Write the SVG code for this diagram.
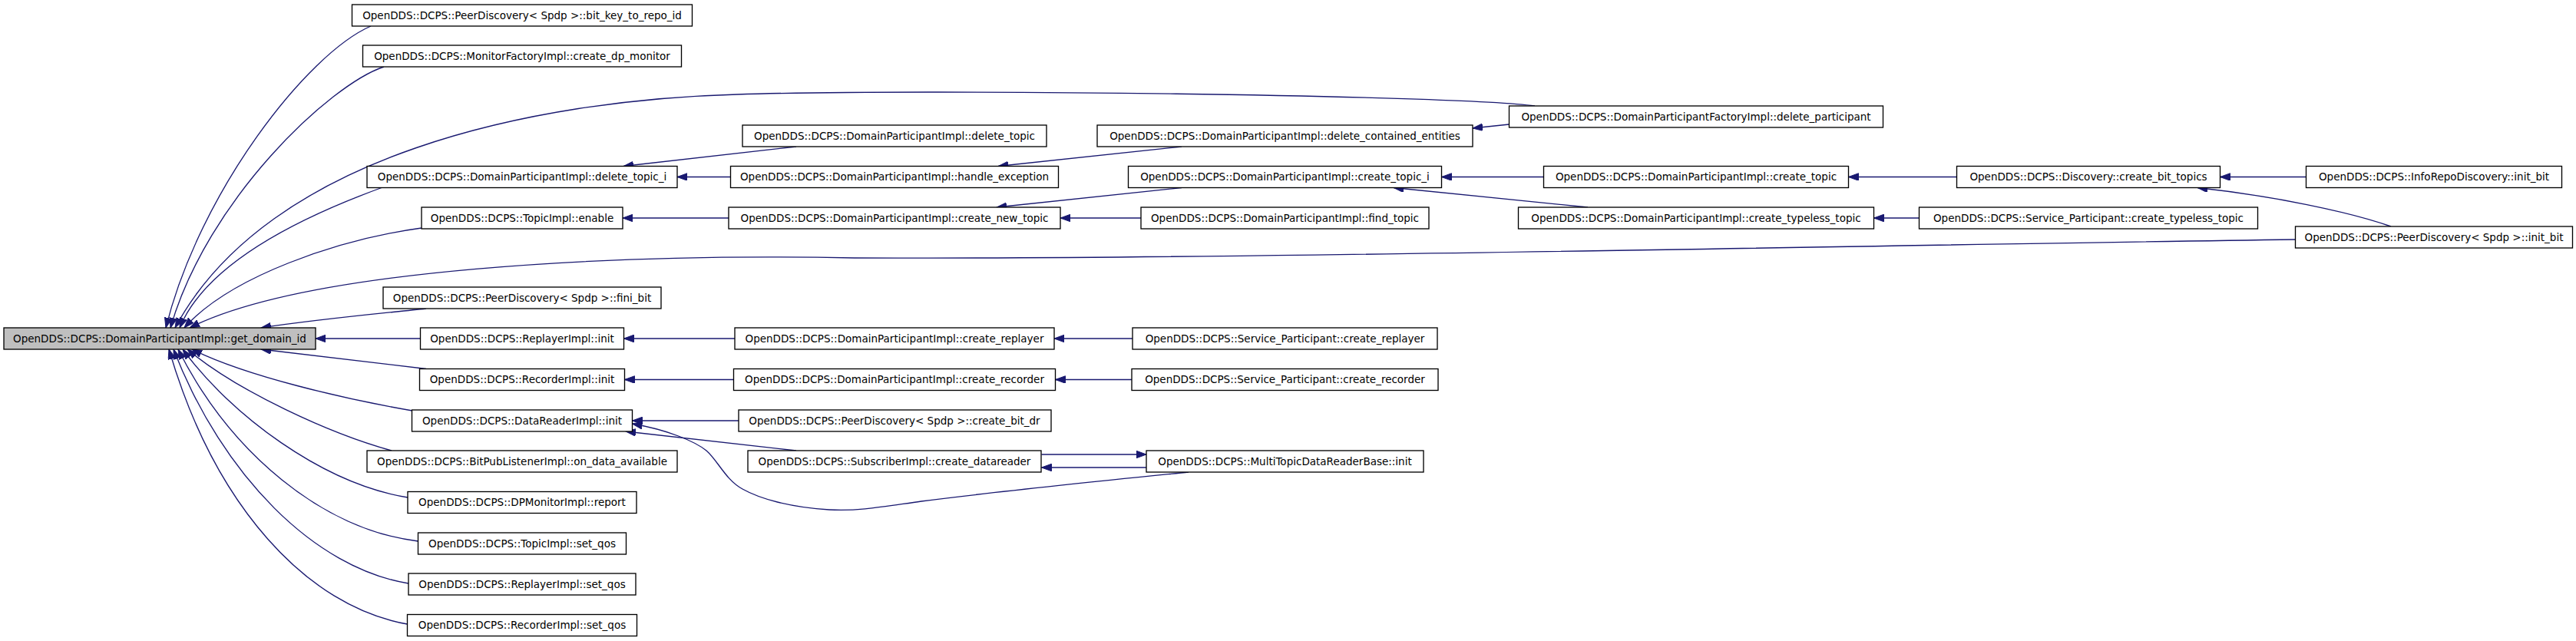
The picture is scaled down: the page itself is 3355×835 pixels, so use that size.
<svg xmlns="http://www.w3.org/2000/svg" width="3355" height="835" viewBox="0 0 3355 835">
<style>
.n rect{fill:#ffffff;stroke:#000000;stroke-width:1.33}
.n.root rect{fill:#bfbfbf}
.n text{font-family:"DejaVu Sans","Liberation Sans",sans-serif;font-size:13.5px;fill:#000000;text-anchor:middle}
.e path{fill:none;stroke:#191970;stroke-width:1.33;marker-end:url(#ah)}
</style>
<defs>
<marker id="ah" markerUnits="userSpaceOnUse" markerWidth="14" markerHeight="10" refX="13" refY="4.75" orient="auto">
<path d="M0,0 L13,4.75 L0,9.5 z" fill="#191970" stroke="#191970" stroke-width="1"/>
</marker>
</defs>
<rect width="3355" height="835" fill="#ffffff"/>
<g id="edges" class="e">
<path d="M483,34 C400,70 260,250 216,427"/>
<path d="M500,87 C430,110 270,260 222,427"/>
<path d="M1999,138 C1900,124 1200,115 960,123 C700,130 350,200 228,427"/>
<path d="M497,244.5 C400,280 270,340 234,427"/>
<path d="M549,297 C440,312 300,360 240,427"/>
<path d="M2990,312 C2400,320 1600,338 1113,336 C800,330 400,350 247,427"/>
<path d="M555,402 C500,408 420,415 340,427"/>
<path d="M547.5,441 L411,441"/>
<path d="M555,480.5 C500,474 420,465 340,455"/>
<path d="M537,535 C450,520 320,490 250,455"/>
<path d="M510,587 C430,565 310,510 244,455"/>
<path d="M531,648 C420,630 300,540 238,455"/>
<path d="M544.5,705 C420,690 300,590 232,455"/>
<path d="M532,760 C410,740 290,620 226,455"/>
<path d="M530.5,813 C400,790 280,660 220,455"/>
<path d="M1037,191 L812,216.5"/>
<path d="M951.5,230.5 L882,230.5"/>
<path d="M1539,191 L1300,216.5"/>
<path d="M1965.5,162 L1918,167"/>
<path d="M949,284 L811,284"/>
<path d="M1539,244.5 L1298,270"/>
<path d="M1486,284 L1381,284"/>
<path d="M2010.5,230.5 L1877.5,230.5"/>
<path d="M2068,270 L1815,244.5"/>
<path d="M2548.5,230.5 L2407.5,230.5"/>
<path d="M2499.5,284 L2440.5,284"/>
<path d="M3003.5,230.5 L2891.5,230.5"/>
<path d="M3114,295 C3060,276 2960,255 2862,244.5"/>
<path d="M957,441 L812.5,441"/>
<path d="M1475,441 L1373,441"/>
<path d="M955.5,494.5 L813.5,494.5"/>
<path d="M1474,494.5 L1374.5,494.5"/>
<path d="M963.5,548 L823.5,548"/>
<path d="M1037,587 L815,562"/>
<path d="M1548,615 C1450,625 1300,640 1200,653 C1150,660 1120,666 1080,664 C1030,661 990,650 967,637 C945,625 935,600 920,587 C905,575 870,560 823.5,552"/>
<path d="M1493,609 L1356.5,609"/>
<path d="M1356.5,592 L1493,592"/>
</g>
<g id="n_get_domain_id" class="n root"><rect x="5" y="427" width="406" height="28"/><text x="208" y="445.5">OpenDDS::DCPS::DomainParticipantImpl::get_domain_id</text></g>
<g id="n_bit_key_to_repo_id" class="n"><rect x="458.5" y="6" width="443" height="28"/><text x="680" y="24.5">OpenDDS::DCPS::PeerDiscovery&lt; Spdp &gt;::bit_key_to_repo_id</text></g>
<g id="n_create_dp_monitor" class="n"><rect x="472.5" y="59" width="415" height="28"/><text x="680" y="77.5">OpenDDS::DCPS::MonitorFactoryImpl::create_dp_monitor</text></g>
<g id="n_delete_topic_i" class="n"><rect x="478" y="216.5" width="404" height="28"/><text x="680" y="235">OpenDDS::DCPS::DomainParticipantImpl::delete_topic_i</text></g>
<g id="n_topic_enable" class="n"><rect x="549" y="270" width="262" height="28"/><text x="680" y="288.5">OpenDDS::DCPS::TopicImpl::enable</text></g>
<g id="n_fini_bit" class="n"><rect x="499" y="374" width="362" height="28"/><text x="680" y="392.5">OpenDDS::DCPS::PeerDiscovery&lt; Spdp &gt;::fini_bit</text></g>
<g id="n_replayer_init" class="n"><rect x="547.5" y="427" width="265" height="28"/><text x="680" y="445.5">OpenDDS::DCPS::ReplayerImpl::init</text></g>
<g id="n_recorder_init" class="n"><rect x="546.5" y="480.5" width="267" height="28"/><text x="680" y="499">OpenDDS::DCPS::RecorderImpl::init</text></g>
<g id="n_datareader_init" class="n"><rect x="536.5" y="534" width="287" height="28"/><text x="680" y="552.5">OpenDDS::DCPS::DataReaderImpl::init</text></g>
<g id="n_on_data_available" class="n"><rect x="478" y="587" width="404" height="28"/><text x="680" y="605.5">OpenDDS::DCPS::BitPubListenerImpl::on_data_available</text></g>
<g id="n_dpmonitor_report" class="n"><rect x="531" y="640.5" width="298" height="28"/><text x="680" y="659">OpenDDS::DCPS::DPMonitorImpl::report</text></g>
<g id="n_topic_set_qos" class="n"><rect x="544.5" y="694" width="271" height="28"/><text x="680" y="712.5">OpenDDS::DCPS::TopicImpl::set_qos</text></g>
<g id="n_replayer_set_qos" class="n"><rect x="532" y="747" width="296" height="28"/><text x="680" y="765.5">OpenDDS::DCPS::ReplayerImpl::set_qos</text></g>
<g id="n_recorder_set_qos" class="n"><rect x="530.5" y="800.5" width="299" height="28"/><text x="680" y="819">OpenDDS::DCPS::RecorderImpl::set_qos</text></g>
<g id="n_delete_topic" class="n"><rect x="967" y="163" width="396" height="28"/><text x="1165" y="181.5">OpenDDS::DCPS::DomainParticipantImpl::delete_topic</text></g>
<g id="n_handle_exception" class="n"><rect x="951.5" y="216.5" width="427" height="28"/><text x="1165" y="235">OpenDDS::DCPS::DomainParticipantImpl::handle_exception</text></g>
<g id="n_create_new_topic" class="n"><rect x="949" y="270" width="432" height="28"/><text x="1165" y="288.5">OpenDDS::DCPS::DomainParticipantImpl::create_new_topic</text></g>
<g id="n_dp_create_replayer" class="n"><rect x="957" y="427" width="416" height="28"/><text x="1165" y="445.5">OpenDDS::DCPS::DomainParticipantImpl::create_replayer</text></g>
<g id="n_dp_create_recorder" class="n"><rect x="955.5" y="480.5" width="419" height="28"/><text x="1165" y="499">OpenDDS::DCPS::DomainParticipantImpl::create_recorder</text></g>
<g id="n_create_bit_dr" class="n"><rect x="962" y="534" width="407" height="28"/><text x="1165" y="552.5">OpenDDS::DCPS::PeerDiscovery&lt; Spdp &gt;::create_bit_dr</text></g>
<g id="n_create_datareader" class="n"><rect x="974" y="587" width="382" height="28"/><text x="1165" y="605.5">OpenDDS::DCPS::SubscriberImpl::create_datareader</text></g>
<g id="n_delete_contained_entities" class="n"><rect x="1429" y="163" width="489" height="28"/><text x="1673.5" y="181.5">OpenDDS::DCPS::DomainParticipantImpl::delete_contained_entities</text></g>
<g id="n_create_topic_i" class="n"><rect x="1469.5" y="216.5" width="408" height="28"/><text x="1673.5" y="235">OpenDDS::DCPS::DomainParticipantImpl::create_topic_i</text></g>
<g id="n_find_topic" class="n"><rect x="1486" y="270" width="375" height="28"/><text x="1673.5" y="288.5">OpenDDS::DCPS::DomainParticipantImpl::find_topic</text></g>
<g id="n_sp_create_replayer" class="n"><rect x="1475" y="427" width="397" height="28"/><text x="1673.5" y="445.5">OpenDDS::DCPS::Service_Participant::create_replayer</text></g>
<g id="n_sp_create_recorder" class="n"><rect x="1474" y="480.5" width="399" height="28"/><text x="1673.5" y="499">OpenDDS::DCPS::Service_Participant::create_recorder</text></g>
<g id="n_multitopic_init" class="n"><rect x="1493" y="587" width="361" height="28"/><text x="1673.5" y="605.5">OpenDDS::DCPS::MultiTopicDataReaderBase::init</text></g>
<g id="n_delete_participant" class="n"><rect x="1965.5" y="138" width="487" height="28"/><text x="2209" y="156.5">OpenDDS::DCPS::DomainParticipantFactoryImpl::delete_participant</text></g>
<g id="n_create_topic" class="n"><rect x="2010.5" y="216.5" width="397" height="28"/><text x="2209" y="235">OpenDDS::DCPS::DomainParticipantImpl::create_topic</text></g>
<g id="n_create_typeless_topic" class="n"><rect x="1977.5" y="270" width="463" height="28"/><text x="2209" y="288.5">OpenDDS::DCPS::DomainParticipantImpl::create_typeless_topic</text></g>
<g id="n_create_bit_topics" class="n"><rect x="2548.5" y="216.5" width="343" height="28"/><text x="2720" y="235">OpenDDS::DCPS::Discovery::create_bit_topics</text></g>
<g id="n_sp_create_typeless_topic" class="n"><rect x="2499.5" y="270" width="441" height="28"/><text x="2720" y="288.5">OpenDDS::DCPS::Service_Participant::create_typeless_topic</text></g>
<g id="n_inforepo_init_bit" class="n"><rect x="3003.5" y="216.5" width="333" height="28"/><text x="3170" y="235">OpenDDS::DCPS::InfoRepoDiscovery::init_bit</text></g>
<g id="n_peer_init_bit" class="n"><rect x="2989.5" y="295" width="361" height="28"/><text x="3170" y="313.5">OpenDDS::DCPS::PeerDiscovery&lt; Spdp &gt;::init_bit</text></g>
</svg>
